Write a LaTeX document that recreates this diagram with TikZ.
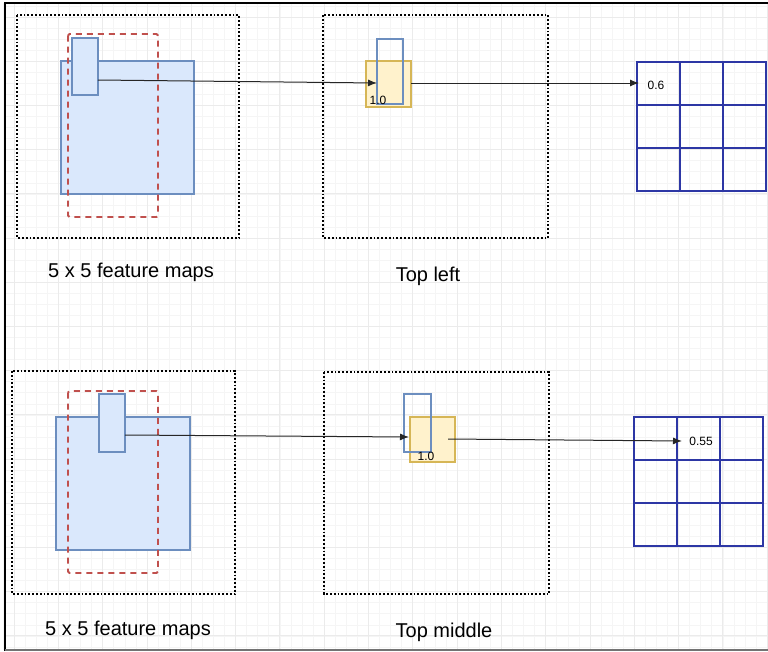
\documentclass[tikz,border=0pt]{standalone}
\usepackage{fontspec}
\setmainfont{Liberation Sans}
\usetikzlibrary{arrows.meta}
\definecolor{mapfill}{HTML}{DAE8FC}
\definecolor{mapline}{HTML}{6C8EBF}
\definecolor{cropline}{HTML}{C0504D}
\definecolor{poolfill}{HTML}{FFF2CC}
\definecolor{poolline}{HTML}{D6B656}
\definecolor{cellline}{RGB}{45,55,165}
\tikzset{
	minorgrid/.style={draw=black!4,line width=0.5},
	majorgrid/.style={draw=black!8,line width=0.8},
	region/.style={draw=black,dotted,line width=1.8},
	featmap/.style={draw=mapline,fill=mapfill,line width=1.6},
	cropbox/.style={draw=cropline,dashed,dash pattern=on 6pt off 5pt,line width=1.8,rounded corners=1.5},
	window/.style={draw=mapline,line width=1.6},
	poolbox/.style={draw=poolline,fill=poolfill,line width=1.6},
	cell/.style={draw=cellline,line width=2.3},
	link/.style={draw=black!85,line width=1,-{Latex[length=9pt,width=7pt]}},
	caption/.style={font=\fontsize{20}{23}\selectfont},
	val/.style={font=\fontsize{12}{14}\selectfont,inner sep=0}
}
\begin{document}
\begin{tikzpicture}[x=1pt,y=-1pt]
		\useasboundingbox (0,0) rectangle (768,651);
		\fill[white] (0,0) rectangle (768,651);
		\foreach \i in {-1,...,69}
			\draw[minorgrid] ({14+11.075*\i},3) -- ({14+11.075*\i},650);
		\foreach \i in {-1,...,58}
			\draw[minorgrid] (5,{17+11.05*\i}) -- (768,{17+11.05*\i});
		\foreach \i in {0,...,17}
			\draw[majorgrid] ({14+44.3*\i},3) -- ({14+44.3*\i},650);
		\foreach \i in {0,...,14}
			\draw[majorgrid] (5,{17+44.2*\i}) -- (768,{17+44.2*\i});
		\draw[black,line width=2.5] (5,651) -- (5,3) -- (768,3);
		\draw[black!55,line width=1.5] (5,650) -- (768,650);

		\draw[region] (17,15) rectangle (239,238);
		\draw[featmap] (61,61) rectangle (194,194);
		\draw[cropbox] (68,34) rectangle (158,217);
		\draw[window,fill=mapfill] (72,38) rectangle (98,95);
		\draw[region] (323,15) rectangle (548,238);
		\draw[poolbox] (366,61) rectangle (411,107);
		\draw[window] (377,39) rectangle (403,104);
		\node[val] (P1) at (378,100) {1.0};
		\foreach \r in {0,1,2}
			\foreach \c in {0,1,2}
				\draw[cell] ({637+43*\c},{62+43*\r}) rectangle ++(43,43);
		\node[val] (V1) at (656,85) {0.6};
		\coordinate(s1) at(98,80);
		\coordinate(t1) at(377,83);
		\coordinate(s2) at(411,83);
		\coordinate(t2) at(639,83);
		\draw[link] (s1) -- (t1);
		\draw[link] (s2) -- (t2);
		\node[caption] (C1) at (131,272) {5 x 5 feature maps};
		\node[caption] (C2) at (428,276) {Top left};

		\draw[region] (12,371) rectangle (235,594);
		\draw[featmap] (56,417) rectangle (190,550);
		\draw[cropbox] (68,391) rectangle (158,573);
		\draw[window,fill=mapfill] (99,394) rectangle (125,452);
		\draw[region] (324,372) rectangle (549,594);
		\draw[poolbox] (410,417) rectangle (455,462);
		\draw[window] (404,394) rectangle (431,452);
		\node[val] (P2) at (426,456) {1.0};
		\foreach \r in {0,1,2}
			\foreach \c in {0,1,2}
				\draw[cell] ({634+43*\c},{417+43*\r}) rectangle ++(43,43);
		\node[val] (V2) at (701,441) {0.55};
		\coordinate(s3) at(125,435);
		\coordinate(t3) at(409,437);
		\coordinate(s4) at(448,439);
		\coordinate(t4) at(682,441);
		\draw[link] (s3) -- (t3);
		\draw[link] (s4) -- (t4);
		\node[caption] (C3) at (128,630) {5 x 5 feature maps};
		\node[caption] (C4) at (444,632) {Top middle};
	\end{tikzpicture}
\end{document}
